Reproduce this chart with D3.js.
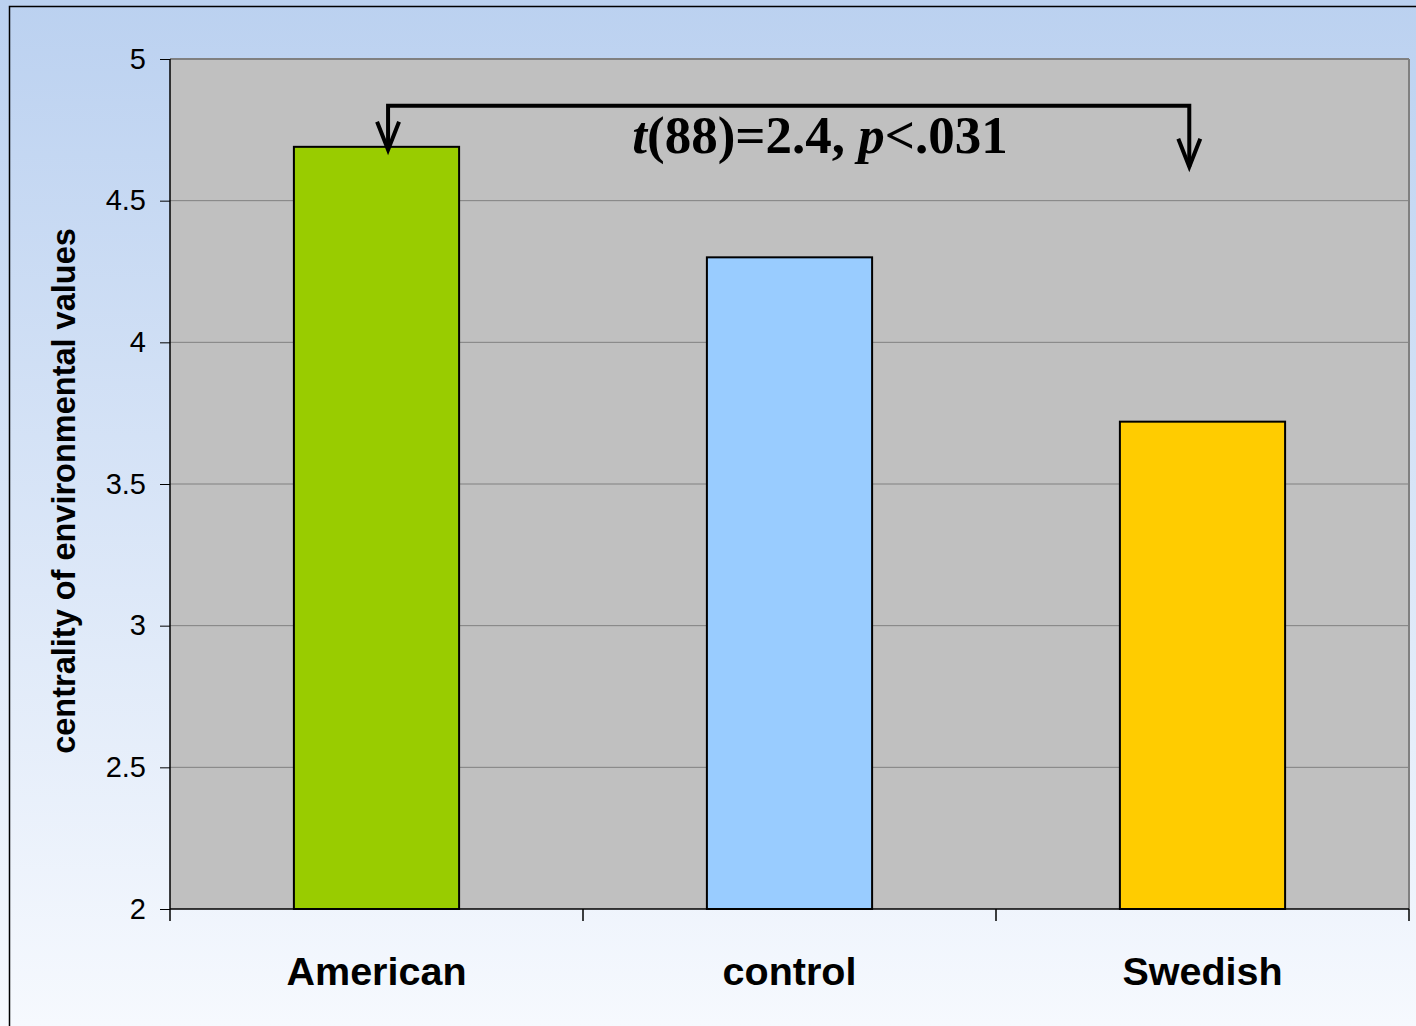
<!DOCTYPE html>
<html><head><meta charset="utf-8">
<script src="https://cdn.jsdelivr.net/npm/d3@7"></script>
<style>html,body{margin:0;padding:0;overflow:hidden;background:#fff}</style>
</head><body>
<svg id="c" width="1416" height="1026"></svg>
<script>
const categories = ["American", "control", "Swedish"];
const values = [4.69, 4.30, 3.72];
const barColors = ["#99CC00", "#99CCFF", "#FFCC00"];
const yTicks = [2, 2.5, 3, 3.5, 4, 4.5, 5];
const yLabel = "centrality of environmental values";

const svg = d3.select("#c");
const defs = svg.append("defs");
const g = defs.append("linearGradient").attr("id","bg").attr("x1",0).attr("y1",0).attr("x2",0).attr("y2",1);
g.append("stop").attr("offset","0%").attr("stop-color","#BBD1F0");
g.append("stop").attr("offset","100%").attr("stop-color","#F6F9FE");
svg.append("rect").attr("width",1416).attr("height",1026).attr("fill","url(#bg)");
svg.append("rect").attr("x",9.5).attr("y",6.5).attr("width",1430).attr("height",1040)
  .attr("fill","none").attr("stroke","#000").attr("stroke-width",1.5);

const L=170, R=1409, T=59, B=909;
const x = d3.scaleBand().domain(categories).range([L,R]).paddingInner(0.6).paddingOuter(0.3);
const xb = d3.scaleBand().domain(categories).range([L,R]);
const y = d3.scaleLinear().domain([2,5]).range([B,T]);

svg.append("rect").attr("x",L).attr("y",T).attr("width",R-L).attr("height",B-T).attr("fill","#C0C0C0");
svg.append("g").selectAll("line").data(yTicks.filter(t=>t>2)).join("line")
  .attr("x1",L).attr("x2",R).attr("y1",d=>y(d)).attr("y2",d=>y(d))
  .attr("stroke","#808080").attr("stroke-width",d=>d===5?2:1);
svg.append("line").attr("x1",R).attr("x2",R).attr("y1",T).attr("y2",B).attr("stroke","#808080").attr("stroke-width",2);

svg.append("g").selectAll("rect").data(categories).join("rect")
  .attr("x",d=>x(d)).attr("width",x.bandwidth())
  .attr("y",(d,i)=>y(values[i])).attr("height",(d,i)=>B-y(values[i]))
  .attr("fill",(d,i)=>barColors[i]).attr("stroke","#000").attr("stroke-width",2);

const ya = svg.append("g").attr("transform",`translate(${L},0)`)
  .call(d3.axisLeft(y).tickValues(yTicks).tickSize(10).tickPadding(14).tickFormat(d3.format("")));
ya.select(".domain").attr("stroke","#000").attr("stroke-width",1.5).attr("d",`M0,${T}V${B}`);
ya.selectAll(".tick line").attr("stroke","#000");
ya.selectAll("text").attr("font-family","Liberation Sans, Arial, sans-serif").attr("font-size",29).attr("fill","#000");

const xa = svg.append("g").attr("transform",`translate(0,${B})`)
  .call(d3.axisBottom(xb).tickSize(0).tickPadding(62));
xa.select(".domain").attr("stroke","#000").attr("stroke-width",1.5).attr("d",`M${L},0H${R}`);
xa.selectAll("text").attr("font-family","Liberation Sans, Arial, sans-serif").attr("font-size",39.5).attr("font-weight","bold").attr("fill","#000").attr("dy","0.35em");
const bounds = [L, ...categories.map(c=>xb(c)+xb.bandwidth())];
svg.append("g").selectAll("line").data(bounds).join("line")
  .attr("x1",d=>d).attr("x2",d=>d).attr("y1",B).attr("y2",B+12).attr("stroke","#000").attr("stroke-width",1.5);

svg.append("text").attr("transform","translate(75,491) rotate(-90)")
  .attr("text-anchor","middle").attr("font-family","Liberation Sans, Arial, sans-serif")
  .attr("font-size",32.5).attr("font-weight","bold").text(yLabel);

const xa1 = x("American")+x.bandwidth()*0.57, xa2 = x("Swedish")+x.bandwidth()*0.42;
const yTop = y(4.835);
svg.append("path").attr("d",`M${xa1},${y(4.68)}V${yTop}H${xa2}V${y(4.62)}`)
  .attr("fill","none").attr("stroke","#000").attr("stroke-width",4);
[[xa1,y(4.68)],[xa2,y(4.62)]].forEach(([ax,ay])=>{
  svg.append("path").attr("d",`M${ax-11},${ay-28}L${ax},${ay}L${ax+11},${ay-28}`)
    .attr("fill","none").attr("stroke","#000").attr("stroke-width",4);
});
const t = svg.append("text").attr("x",820).attr("y",153).attr("text-anchor","middle")
  .attr("font-family","Liberation Serif, Times New Roman, serif").attr("font-size",53).attr("font-weight","bold");
t.append("tspan").attr("font-style","italic").text("t");
t.append("tspan").text("(88)=2.4, ");
t.append("tspan").attr("font-style","italic").text("p");
t.append("tspan").text("<.031");
</script>
</body></html>
